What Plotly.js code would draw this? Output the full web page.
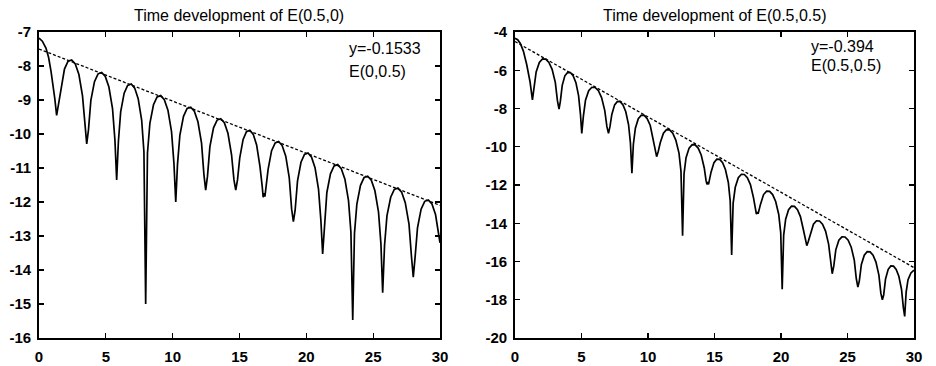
<!DOCTYPE html>
<html>
<head>
<meta charset="utf-8">
<script src="https://cdn.plot.ly/plotly-3.0.1.min.js"></script>
<style>html,body{margin:0;padding:0;background:#fff;}#chart{width:936px;height:366px;}</style>
</head>
<body>
<div id="chart"></div>
<script>
// ---- data ----
const leftTitle = "Time development of E(0.5,0)";
const rightTitle = "Time development of E(0.5,0.5)";
const leftLabel = ["y=-0.1533", "E(0,0.5)"];
const rightLabel = ["y=-0.394", "E(0.5,0.5)"];

const leftT = [0,0.25,0.52,0.72,0.9,1.05,1.18,1.32,
1.635,1.905,2.175,2.445,2.715,2.985,3.255,3.435,3.57,
3.70,3.88,4.15,4.42,4.69,4.96,5.23,5.50,5.68,5.81,
5.94,6.11,6.37,6.63,6.90,7.16,7.42,7.68,7.85,7.98,
8.115,8.295,8.565,8.835,9.105,9.375,9.645,9.915,10.095,10.23,
10.36,10.54,10.81,11.08,11.35,11.62,11.89,12.16,12.34,12.47,
12.605,12.785,13.055,13.325,13.595,13.865,14.135,14.405,14.585,14.72,
14.85,15.015,15.27,15.52,15.775,16.03,16.28,16.53,16.70,16.77,16.84,16.90,
17.14,17.40,17.67,17.93,18.19,18.46,18.72,18.90,19.03,
19.16,19.34,19.60,19.86,20.125,20.39,20.65,20.91,21.09,21.22,
21.355,21.535,21.805,22.075,22.345,22.615,22.885,23.155,23.335,23.47,
23.60,23.78,24.05,24.32,24.59,24.86,25.13,25.40,25.58,25.71,
25.85,26.03,26.31,26.58,26.855,27.13,27.40,27.68,27.86,28.0,
28.135,28.315,28.585,28.855,29.125,29.395,29.665,29.935,30];
const leftV = [-7.18,-7.27,-7.47,-7.75,-8.16,-8.55,-8.95,-9.45,
-8.64,-8.09,-7.86,-7.82,-7.94,-8.25,-8.88,-9.81,-10.29,
-9.88,-9.01,-8.46,-8.23,-8.19,-8.31,-8.62,-9.25,-10.18,-11.35,
-10.22,-9.35,-8.80,-8.57,-8.53,-8.65,-8.96,-9.59,-10.52,-15.0,
-10.56,-9.69,-9.14,-8.91,-8.87,-8.99,-9.30,-9.93,-10.86,-12.0,
-10.90,-10.03,-9.48,-9.25,-9.21,-9.33,-9.64,-10.27,-11.20,-11.65,
-11.24,-10.37,-9.82,-9.59,-9.55,-9.67,-9.98,-10.61,-11.35,-11.65,
-11.35,-10.71,-10.16,-9.93,-9.89,-10.01,-10.32,-10.95,-11.55,-11.86,-11.74,-11.84,
-11.04,-10.49,-10.26,-10.22,-10.34,-10.65,-11.28,-12.21,-12.58,
-12.25,-11.38,-10.83,-10.60,-10.56,-10.68,-10.99,-11.62,-12.55,-13.53,
-12.59,-11.72,-11.17,-10.94,-10.90,-11.02,-11.33,-11.96,-12.89,-15.47,
-12.93,-12.06,-11.51,-11.28,-11.24,-11.36,-11.67,-12.30,-13.23,-14.67,
-13.28,-12.41,-11.86,-11.63,-11.59,-11.71,-12.02,-12.65,-13.58,-14.21,
-13.63,-12.76,-12.21,-11.98,-11.94,-12.06,-12.37,-13.00,-13.2];
const leftFitT = [0, 30];
const leftFitV = [-7.5, -12.1];

const rightT = [0,0.2,0.4,0.63,0.88,1.13,1.31,
1.43,1.59,1.83,2.07,2.31,2.55,2.79,3.03,3.19,3.31,
3.41,3.55,3.75,3.96,4.165,4.37,4.58,4.78,4.92,5.02,
5.14,5.30,5.54,5.78,6.025,6.27,6.51,6.75,6.91,7.03,
7.14,7.28,7.49,7.70,7.91,8.12,8.33,8.54,8.68,8.79,
8.90,9.05,9.27,9.50,9.72,9.94,10.17,10.39,10.54,10.65,
10.77,10.92,11.16,11.39,11.625,11.86,12.09,12.33,12.48,12.6,
12.71,12.86,13.09,13.32,13.545,13.77,14.00,14.23,14.36,14.43,14.49,14.55,
14.74,14.96,15.17,15.39,15.61,15.82,16.04,16.18,16.29,
16.40,16.56,16.79,17.02,17.245,17.47,17.70,17.93,18.08,18.15,18.22,18.28,
18.46,18.69,18.92,19.145,19.37,19.60,19.83,19.98,20.09,
20.20,20.35,20.57,20.79,21.015,21.24,21.46,21.68,21.83,21.94,
22.05,22.21,22.44,22.67,22.895,23.12,23.35,23.58,23.74,23.85,
23.97,24.12,24.35,24.58,24.815,25.05,25.28,25.51,25.66,25.78,
25.89,26.04,26.26,26.48,26.70,26.92,27.14,27.36,27.51,27.62,
27.72,27.86,28.06,28.26,28.46,28.66,28.86,29.06,29.20,29.3,
29.41,29.55,29.77,30];
const rightV = [-4.33,-4.4,-4.6,-5.0,-5.7,-6.6,-7.55,
-6.93,-6.09,-5.59,-5.41,-5.42,-5.59,-5.95,-6.63,-7.59,-8.03,
-7.63,-6.79,-6.29,-6.11,-6.12,-6.29,-6.65,-7.33,-8.29,-9.30,
-8.41,-7.57,-7.07,-6.89,-6.90,-7.07,-7.43,-8.11,-8.95,-9.30,
-8.95,-8.31,-7.81,-7.63,-7.64,-7.81,-8.17,-8.85,-9.81,-11.39,
-9.87,-9.03,-8.53,-8.35,-8.36,-8.53,-8.89,-9.57,-10.2,-10.52,
-10.25,-9.79,-9.29,-9.11,-9.12,-9.29,-9.65,-10.33,-11.29,-14.65,
-11.41,-10.57,-10.07,-9.89,-9.90,-10.07,-10.43,-11.11,-11.75,-11.97,-11.85,-11.97,
-11.33,-10.83,-10.65,-10.66,-10.83,-11.19,-11.87,-12.83,-15.66,
-12.96,-12.12,-11.62,-11.44,-11.45,-11.62,-11.98,-12.66,-13.3,-13.52,-13.42,-13.5,
-13.0,-12.50,-12.32,-12.33,-12.50,-12.86,-13.54,-14.50,-17.45,
-14.63,-13.79,-13.29,-13.11,-13.12,-13.29,-13.65,-14.33,-14.95,-15.17,
-14.95,-14.55,-14.05,-13.87,-13.88,-14.05,-14.41,-15.09,-16.05,-16.64,
-16.23,-15.39,-14.89,-14.71,-14.72,-14.89,-15.25,-15.93,-16.89,-17.34,
-17.01,-16.17,-15.67,-15.49,-15.50,-15.67,-16.03,-16.71,-17.67,-18.0,
-17.75,-16.91,-16.41,-16.23,-16.24,-16.41,-16.77,-17.45,-18.41,-18.87,
-17.6,-16.95,-16.6,-16.45];
const rightFitT = [0, 30];
const rightFitV = [-4.5, -16.32];

const xTicks = [0, 5, 10, 15, 20, 25, 30];
const xTickText = ["0", "5", "10", "15", "20", "25", "30"];
const leftYTicks = [-16, -15, -14, -13, -12, -11, -10, -9, -8, -7];
const leftYTickText = ["-16", "-15", "-14", "-13", "-12", "-11", "-10", "-9", "-8", "-7"];
const rightYTicks = [-20, -18, -16, -14, -12, -10, -8, -6, -4];
const rightYTickText = ["-20", "-18", "-16", "-14", "-12", "-10", "-8", "-6", "-4"];

// ---- drawing ----
const FONT = "Liberation Sans, Arial, Helvetica, sans-serif";
const traces = [
  {x: leftT, y: leftV, xaxis: "x", yaxis: "y", mode: "lines", line: {color: "#000", width: 1.7}, hoverinfo: "skip"},
  {x: leftFitT, y: leftFitV, xaxis: "x", yaxis: "y", mode: "lines", line: {color: "#000", width: 1.3, dash: "3px,2px"}, hoverinfo: "skip"},
  {x: rightT, y: rightV, xaxis: "x2", yaxis: "y2", mode: "lines", line: {color: "#000", width: 1.7}, hoverinfo: "skip"},
  {x: rightFitT, y: rightFitV, xaxis: "x2", yaxis: "y2", mode: "lines", line: {color: "#000", width: 1.3, dash: "3px,2px"}, hoverinfo: "skip"}
];

function xax(domain, anchor) {
  return {domain: domain, anchor: anchor, range: [0, 30], tickvals: xTicks, ticktext: xTickText,
    ticks: "inside", ticklen: 5, tickwidth: 1.2, tickcolor: "#000", showline: true, linecolor: "#000", linewidth: 1.8,
    mirror: "ticks", showgrid: false, zeroline: false, tickfont: {family: FONT, size: 15, color: "#000", weight: "bold"}, ticklabelstandoff: 4};
}
function yax(range, vals, text, anchor) {
  return {domain: [0, 1], anchor: anchor, range: range, tickvals: vals, ticktext: text,
    ticks: "inside", ticklen: 5, tickwidth: 1.2, tickcolor: "#000", showline: true, linecolor: "#000", linewidth: 1.8,
    mirror: "ticks", showgrid: false, zeroline: false, tickfont: {family: FONT, size: 15, color: "#000", weight: "bold"}, ticklabelstandoff: 3};
}

const layout = {
  width: 936, height: 366,
  margin: {l: 39, r: 22, t: 32, b: 28},
  paper_bgcolor: "#fff", plot_bgcolor: "#fff",
  showlegend: false,
  xaxis: xax([0, 0.4583], "y"),
  yaxis: yax([-16, -7], leftYTicks, leftYTickText, "x"),
  xaxis2: xax([0.544, 1], "y2"),
  yaxis2: yax([-20, -4], rightYTicks, rightYTickText, "x2"),
  annotations: [
    {text: leftTitle, xref: "paper", yref: "paper", x: 0.2291, y: 1, yshift: 17, xanchor: "center", yanchor: "middle", showarrow: false, font: {family: FONT, size: 16, color: "#000"}},
    {text: rightTitle, xref: "paper", yref: "paper", x: 0.772, y: 1, yshift: 17, xanchor: "center", yanchor: "middle", showarrow: false, font: {family: FONT, size: 16, color: "#000"}},
    {text: leftLabel[0], xref: "x", yref: "y", x: 23.05, y: -7.48, xanchor: "left", yanchor: "middle", showarrow: false, font: {family: FONT, size: 16, color: "#000"}},
    {text: leftLabel[1], xref: "x", yref: "y", x: 23.05, y: -8.17, xanchor: "left", yanchor: "middle", showarrow: false, font: {family: FONT, size: 16, color: "#000"}},
    {text: rightLabel[0], xref: "x2", yref: "y2", x: 22.14, y: -4.77, xanchor: "left", yanchor: "middle", showarrow: false, font: {family: FONT, size: 16, color: "#000"}},
    {text: rightLabel[1], xref: "x2", yref: "y2", x: 22.14, y: -5.73, xanchor: "left", yanchor: "middle", showarrow: false, font: {family: FONT, size: 16, color: "#000"}}
  ]
};

Plotly.newPlot("chart", traces, layout, {staticPlot: true, displayModeBar: false});
</script>
</body>
</html>
